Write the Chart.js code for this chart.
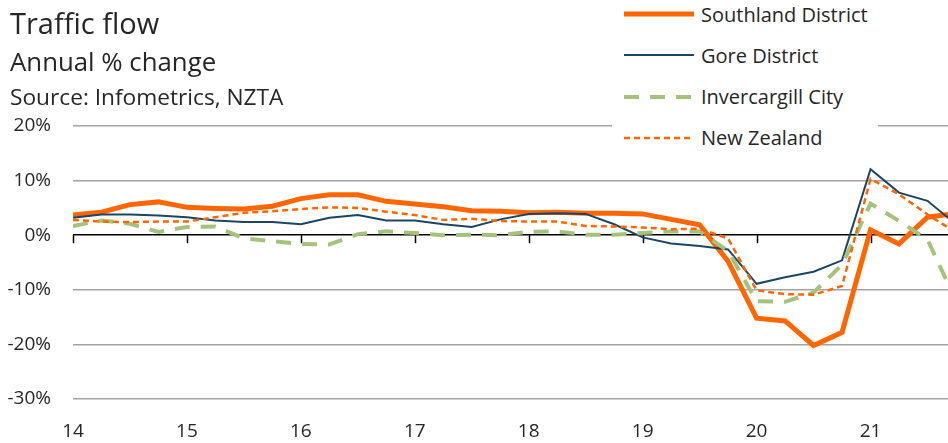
<!DOCTYPE html>
<html>
<head>
<meta charset="utf-8">
<title>Traffic flow</title>
<script src="https://cdn.jsdelivr.net/npm/chart.js@4.4.0/dist/chart.umd.min.js"></script>
<style>
body{margin:0;background:#fff;font-family:"Open Sans",sans-serif;color:#262626;}
#wrap{position:relative;width:948px;height:443px;overflow:hidden;}
#trafficChart{position:absolute;left:0;top:0;}
.ttl{position:absolute;left:10px;white-space:nowrap;line-height:1;}
#legend{position:absolute;left:612px;top:0;width:266px;height:155px;background:#fff;}
.lgRow{position:absolute;left:0;height:30px;display:flex;align-items:center;white-space:nowrap;font-size:20px;}
.lgRow svg{margin-left:12px;margin-right:7px;}
</style>
</head>
<body>
<div id="wrap">
  <canvas id="trafficChart" width="948" height="443"></canvas>
  <div class="ttl" style="top:8px;font-size:29px;">Traffic flow</div>
  <div class="ttl" style="top:49px;font-size:25.8px;">Annual % change</div>
  <div class="ttl" style="top:86px;font-size:22.7px;">Source: Infometrics, NZTA</div>
  <div id="legend"></div>
</div>
<script>
// quarterly points, x = year (14 = 2014)
var quarters = [14, 14.25, 14.5, 14.75, 15, 15.25, 15.5, 15.75,
                16, 16.25, 16.5, 16.75, 17, 17.25, 17.5, 17.75,
                18, 18.25, 18.5, 18.75, 19, 19.25, 19.5, 19.75,
                20, 20.25, 20.5, 20.75, 21, 21.25, 21.5, 21.75];
var yearTicks = [14, 15, 16, 17, 18, 19, 20, 21];

var southland = [3.7, 4.2, 5.6, 6.1, 5.1, 4.9, 4.8, 5.3,
                 6.7, 7.4, 7.4, 6.2, 5.7, 5.2, 4.5, 4.4,
                 4.1, 4.2, 4.0, 4.0, 3.9, 2.9, 1.9, -4.8,
                 -15.2, -15.7, -20.2, -17.8, 1.0, -1.6, 3.3, 4.0];
var gore = [3.2, 3.8, 3.8, 3.6, 3.3, 2.7, 2.4, 2.4,
            2.0, 3.2, 3.7, 2.7, 2.7, 2.0, 1.5, 2.9,
            3.9, 4.0, 3.9, 2.0, -0.4, -1.5, -2.0, -2.6,
            -8.9, -7.7, -6.7, -4.6, 12.1, 7.8, 6.3, 2.0];
var invercargill = [1.7, 2.7, 2.1, 0.6, 1.5, 1.6, -0.6, -1.1,
                    -1.6, -1.7, 0.2, 0.7, 0.4, 0.0, 0.1, 0.0,
                    0.6, 0.7, 0.1, 0.1, 0.4, 0.7, 0.7, -2.9,
                    -12.1, -12.2, -10.5, -5.4, 5.8, 2.6, -0.8, -12.0];
var newZealand = [2.8, 2.5, 2.4, 2.5, 2.5, 3.3, 4.1, 4.4,
                  4.8, 5.1, 5.0, 4.3, 3.7, 2.8, 3.0, 2.6,
                  2.5, 2.5, 1.7, 1.6, 1.4, 1.1, 1.2, -0.6,
                  -10.1, -10.8, -10.9, -9.3, 10.3, 7.5, 3.8, 0.5];

var seriesNames = ["Southland District", "Gore District", "Invercargill City", "New Zealand"];

var fontFam = '"Open Sans", sans-serif';
var textColor = '#262626';

function toPoints(values){
	var pts = [];
	for(var i=0; i<quarters.length; i++){
		pts.push({x: quarters[i], y: values[i]});
	}
	return pts;
}

var chartData = {
	datasets : [
		{ label: seriesNames[0], data: toPoints(southland), borderColor: '#ff6600', borderWidth: 5, order: 4 },
		{ label: seriesNames[1], data: toPoints(gore), borderColor: '#1b4565', borderWidth: 2, order: 3 },
		{ label: seriesNames[2], data: toPoints(invercargill), borderColor: '#a5c27a', borderWidth: 4, borderDash: [15, 11], order: 2 },
		{ label: seriesNames[3], data: toPoints(newZealand), borderColor: '#ff6600', borderWidth: 2.5, borderDash: [6, 4], order: 1 }
	]
};

// black tick marks hanging from the zero line
var zeroTicks = {
	id: 'zeroTicks',
	beforeDatasetsDraw: function(chart){
		var ctx = chart.ctx;
		var xs = chart.scales.x, ys = chart.scales.y;
		var y0 = ys.getPixelForValue(0);
		ctx.save();
		ctx.strokeStyle = '#000';
		ctx.lineWidth = 1.5;
		for(var i=0; i<yearTicks.length; i++){
			var px = Math.round(xs.getPixelForValue(yearTicks[i])) + 0.5;
			ctx.beginPath();
			ctx.moveTo(px, y0);
			ctx.lineTo(px, y0 + 8);
			ctx.stroke();
		}
		ctx.restore();
	}
};

var chart = new Chart(document.getElementById('trafficChart').getContext('2d'), {
	type: 'line',
	data: chartData,
	plugins: [zeroTicks],
	options: {
		responsive: false,
		animation: false,
		layout: { padding: { top: 126, left: 0, right: 0, bottom: 0 } },
		elements: { point: { radius: 0 }, line: { tension: 0, borderCapStyle: 'butt' } },
		plugins: { legend: { display: false }, tooltip: { enabled: false } },
		scales: {
			x: {
				type: 'linear', min: 14, max: 21.68,
				afterBuildTicks: function(scale){
					scale.ticks = yearTicks.map(function(v){ return {value: v}; });
				},
				afterFit: function(scale){ scale.height = 44; },
				grid: { display: false, drawTicks: false },
				border: { display: false },
				ticks: {
					autoSkip: false, maxRotation: 0, padding: 21,
					color: textColor, font: { family: fontFam, size: 19 },
					callback: function(v){ return String(v); }
				}
			},
			y: {
				min: -30, max: 20,
				afterFit: function(scale){ scale.width = 73; },
				grid: {
					drawTicks: false, lineWidth: 1.5,
					color: function(c){ return c.tick && c.tick.value === 0 ? '#000' : '#a3a3a3'; }
				},
				border: { display: false },
				ticks: {
					stepSize: 10, padding: 22,
					color: textColor, font: { family: fontFam, size: 19 },
					callback: function(v){ return v + '%'; }
				}
			}
		}
	}
});

// html legend drawn from the datasets
function makeLegend(){
	var box = document.getElementById('legend');
	var ds = chart.data.datasets;
	for(var i=0; i<ds.length; i++){
		var row = document.createElement('div');
		row.className = 'lgRow';
		row.style.top = (14 + 41.3*i - 15) + 'px';
		var dash = ds[i].borderDash ? ds[i].borderDash.join(',') : 'none';
		row.innerHTML = '<svg width="70" height="10"><line x1="0" y1="5" x2="70" y2="5" stroke="' + ds[i].borderColor +
			'" stroke-width="' + ds[i].borderWidth + '" stroke-dasharray="' + dash + '"/></svg><span>' + ds[i].label + '</span>';
		box.appendChild(row);
	}
}
makeLegend();
</script>
</body>
</html>
